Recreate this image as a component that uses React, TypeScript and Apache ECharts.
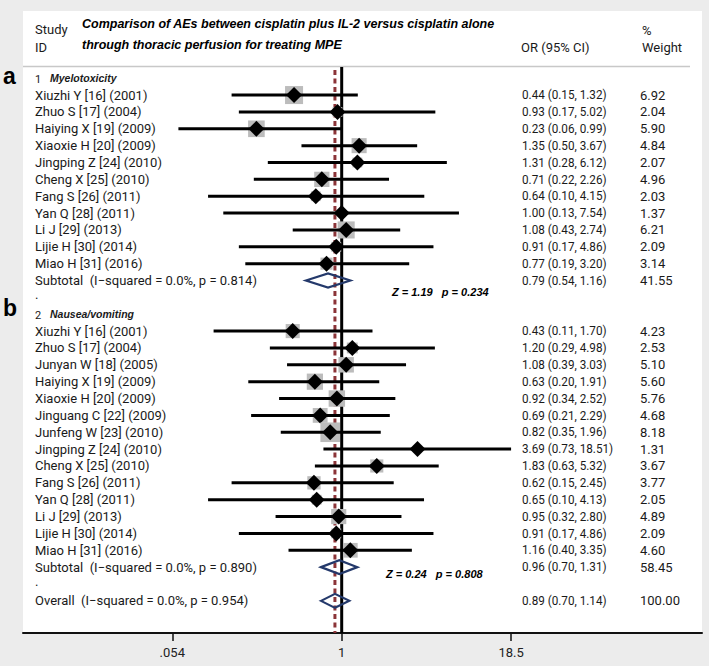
import React, { useEffect, useRef } from "react";
import * as echarts from "echarts";

// ---------- data ----------
const myeloStudies = [
  "Xiuzhi Y [16] (2001)", "Zhuo S [17] (2004)", "Haiying X [19] (2009)", "Xiaoxie H [20] (2009)",
  "Jingping Z [24] (2010)", "Cheng X [25] (2010)", "Fang S [26] (2011)", "Yan Q [28] (2011)",
  "Li J [29] (2013)", "Lijie H [30] (2014)", "Miao H [31] (2016)",
];
const myeloOR = [0.44, 0.93, 0.23, 1.35, 1.31, 0.71, 0.64, 1.0, 1.08, 0.91, 0.77];
const myeloLower = [0.15, 0.17, 0.06, 0.5, 0.28, 0.22, 0.1, 0.13, 0.43, 0.17, 0.19];
const myeloUpper = [1.32, 5.02, 0.99, 3.67, 6.12, 2.26, 4.15, 7.54, 2.74, 4.86, 3.2];
const myeloWeight = [6.92, 2.04, 5.9, 4.84, 2.07, 4.96, 2.03, 1.37, 6.21, 2.09, 3.14];

const nauseaStudies = [
  "Xiuzhi Y [16] (2001)", "Zhuo S [17] (2004)", "Junyan W [18] (2005)", "Haiying X [19] (2009)",
  "Xiaoxie H [20] (2009)", "Jinguang C [22] (2009)", "Junfeng W [23] (2010)", "Jingping Z [24] (2010)",
  "Cheng X [25] (2010)", "Fang S [26] (2011)", "Yan Q [28] (2011)", "Li J [29] (2013)",
  "Lijie H [30] (2014)", "Miao H [31] (2016)",
];
const nauseaOR = [0.43, 1.2, 1.08, 0.63, 0.92, 0.69, 0.82, 3.69, 1.83, 0.62, 0.65, 0.95, 0.91, 1.16];
const nauseaLower = [0.11, 0.29, 0.39, 0.2, 0.34, 0.21, 0.35, 0.73, 0.63, 0.15, 0.1, 0.32, 0.17, 0.4];
const nauseaUpper = [1.7, 4.98, 3.03, 1.91, 2.52, 2.29, 1.96, 18.51, 5.32, 2.45, 4.13, 2.8, 4.86, 3.35];
const nauseaWeight = [4.23, 2.53, 5.1, 5.6, 5.76, 4.68, 8.18, 1.31, 3.67, 3.77, 2.05, 4.89, 2.09, 4.6];

const pooledLabels = [
  "Subtotal  (I\u2212squared = 0.0%, p = 0.814)",
  "Subtotal  (I\u2212squared = 0.0%, p = 0.890)",
  "Overall  (I\u2212squared = 0.0%, p = 0.954)",
];
const pooledOR = [0.79, 0.96, 0.89];
const pooledLower = [0.54, 0.7, 0.7];
const pooledUpper = [1.16, 1.31, 1.14];
const pooledWeight = [41.55, 58.45, 100.0];

const groupNumbers = ["1", "2"];
const groupNames = ["Myelotoxicity", "Nausea/vomiting"];
const zStats = ["Z = 1.19   p = 0.234", "Z = 0.24   p = 0.808"];
const overallOR = 0.89;

const tickValues = [0.054, 1, 18.5];
const tickLabels = [".054", "1", "18.5"];

const titleLines = [
  "Comparison of AEs between cisplatin plus IL-2 versus cisplatin alone",
  "through thoracic perfusion for treating MPE",
];

// ---------- row model ----------
type Row = {
  row: number;
  kind: "group" | "study" | "pooled" | "dot";
  label: string;
  num?: string;
  or?: number;
  lo?: number;
  hi?: number;
  w?: number;
};

const rows: Row[] = [];
let r = 0;
const groups = [
  { studies: myeloStudies, or: myeloOR, lo: myeloLower, hi: myeloUpper, w: myeloWeight },
  { studies: nauseaStudies, or: nauseaOR, lo: nauseaLower, hi: nauseaUpper, w: nauseaWeight },
];
groups.forEach((g, gi) => {
  rows.push({ row: r++, kind: "group", label: groupNames[gi], num: groupNumbers[gi] });
  g.studies.forEach((s, i) =>
    rows.push({ row: r++, kind: "study", label: s, or: g.or[i], lo: g.lo[i], hi: g.hi[i], w: g.w[i] })
  );
  rows.push({
    row: r++, kind: "pooled", label: pooledLabels[gi], or: pooledOR[gi], lo: pooledLower[gi],
    hi: pooledUpper[gi], w: pooledWeight[gi],
  });
  rows.push({ row: r++, kind: "dot", label: "." });
});
rows.push({
  row: r++, kind: "pooled", label: pooledLabels[2], or: pooledOR[2], lo: pooledLower[2],
  hi: pooledUpper[2], w: pooledWeight[2],
});

const studyRows = rows.filter((x) => x.kind === "study");
const pooledRows = rows.filter((x) => x.kind === "pooled");

// ---------- layout ----------
const ROW0_Y = 78.2;
const ROW_H = 16.86;
const GRID_TOP = 11;
const GRID_BOTTOM_Y = 633;
const GRID_LEFT = 23;
const GRID_RIGHT_X = 702;
const X_ZERO = 341.7;
const PX_PER_LN = 58.04;
const yMin = (GRID_TOP - ROW0_Y) / ROW_H;
const yMax = (GRID_BOTTOM_Y - ROW0_Y) / ROW_H;
const xMin = (GRID_LEFT - X_ZERO) / PX_PER_LN;
const xMax = (GRID_RIGHT_X - X_ZERO) / PX_PER_LN;

const TXT = "#1a1a1a";
const NAVY = "#24396b";
const RED = "#8b3438";
const SANS = "Roboto";
const ARIAL = "Liberation Sans";

const fmt = (v: number) => v.toFixed(2);

const option: any = {
  animation: false,
  backgroundColor: "#ececec",
  grid: {
    left: GRID_LEFT,
    right: 709 - GRID_RIGHT_X,
    top: GRID_TOP,
    bottom: 666 - GRID_BOTTOM_Y,
    show: true,
    backgroundColor: "#ffffff",
    borderWidth: 0,
  },
  xAxis: {
    type: "value",
    min: xMin,
    max: xMax,
    splitLine: { show: false },
    axisLine: { show: true, onZero: false, lineStyle: { color: "#111", width: 2 } },
    axisTick: {
      show: true,
      customValues: tickValues.map((v) => Math.log(v)),
      length: 8,
      lineStyle: { color: "#111", width: 1.5 },
    },
    axisLabel: {
      customValues: tickValues.map((v) => Math.log(v)),
      formatter: (v: number) => {
        const i = tickValues.findIndex((t) => Math.abs(Math.log(t) - v) < 1e-6);
        return i >= 0 ? tickLabels[i] : "";
      },
      margin: 13,
      fontSize: 13,
      fontFamily: SANS,
      color: "#222",
    },
  },
  yAxis: { type: "value", inverse: true, min: yMin, max: yMax, show: false },
  series: [
    {
      type: "line",
      z: 1,
      silent: true,
      symbol: "none",
      data: [
        [Math.log(overallOR), (70 - ROW0_Y) / ROW_H],
        [Math.log(overallOR), yMax],
      ],
      lineStyle: { color: RED, width: 3, type: [5, 3.5] },
    },
    {
      type: "line",
      z: 2,
      silent: true,
      symbol: "none",
      data: [
        [0, (67 - ROW0_Y) / ROW_H],
        [0, yMax],
      ],
      lineStyle: { color: "#000", width: 3 },
    },
    {
      type: "custom",
      z: 3,
      silent: true,
      data: studyRows.map((s) => [Math.log(s.or!), s.row]),
      encode: { x: 0, y: 1 },
      renderItem: (params: any, api: any) => {
        const s = studyRows[params.dataIndex];
        const [cx, cy] = api.coord([Math.log(s.or!), s.row]);
        const xl = api.coord([Math.log(s.lo!), s.row])[0];
        const xh = api.coord([Math.log(s.hi!), s.row])[0];
        const box = 6.85 * Math.sqrt(s.w!);
        const d = 8;
        return {
          type: "group",
          children: [
            { type: "rect", shape: { x: cx - box / 2, y: cy - box / 2, width: box, height: box }, style: { fill: "#bcbcbc" } },
            { type: "line", shape: { x1: xl, y1: cy, x2: xh, y2: cy }, style: { stroke: "#000", lineWidth: 3 } },
            {
              type: "polygon",
              shape: { points: [[cx - d, cy], [cx, cy - d], [cx + d, cy], [cx, cy + d]] },
              style: { fill: "#000" },
            },
          ],
        };
      },
    },
    {
      type: "custom",
      z: 4,
      silent: true,
      data: pooledRows.map((s) => [Math.log(s.or!), s.row]),
      encode: { x: 0, y: 1 },
      renderItem: (params: any, api: any) => {
        const s = pooledRows[params.dataIndex];
        const [cx, cy] = api.coord([Math.log(s.or!), s.row]);
        const xl = api.coord([Math.log(s.lo!), s.row])[0];
        const xh = api.coord([Math.log(s.hi!), s.row])[0];
        const h = 7;
        return {
          type: "polygon",
          shape: { points: [[xl, cy], [cx, cy - h], [xh, cy], [cx, cy + h]] },
          style: { fill: "none", stroke: NAVY, lineWidth: 2.2 },
        };
      },
    },
    {
      type: "custom",
      z: 5,
      silent: true,
      data: rows.map((s) => [0, s.row]),
      encode: { x: 0, y: 1 },
      renderItem: (params: any, api: any) => {
        const s = rows[params.dataIndex];
        const cy = api.coord([0, s.row])[1];
        const children: any[] = [];
        const txt = (x: number, y: number, text: string, extra: any = {}, scaleX = 1) => ({
          type: "text",
          x,
          y,
          scaleX,
          style: {
            text,
            fill: TXT,
            fontFamily: SANS,
            fontSize: 13,
            align: "left",
            verticalAlign: "middle",
            ...extra,
          },
        });
        if (s.kind === "group") {
          children.push(txt(35, cy + 1.5, s.num!, { fontSize: 11 }));
          children.push(
            txt(50, cy - 0.5, s.label, { fontFamily: ARIAL, fontSize: 10.5, fontWeight: "bold", fontStyle: "italic" })
          );
        } else if (s.kind === "dot") {
          children.push(txt(35, cy - 3, "."));
        } else {
          children.push(txt(35, cy, s.label));
          children.push(txt(522, cy, `${fmt(s.or!)} (${fmt(s.lo!)}, ${fmt(s.hi!)})`, { fontSize: 13 }, 0.9));
          children.push(txt(640, cy, fmt(s.w!), { fontSize: 13 }));
        }
        return { type: "group", children };
      },
    },
  ],
  graphic: [
    { type: "line", shape: { x1: GRID_LEFT, y1: 66.5, x2: 690, y2: 66.5 }, style: { stroke: "#c8c8c8", lineWidth: 1.5 } },
    { type: "text", x: 35, y: 29, style: { text: "Study", fill: TXT, fontFamily: SANS, fontSize: 13, verticalAlign: "middle" } },
    { type: "text", x: 35, y: 47, style: { text: "ID", fill: TXT, fontFamily: SANS, fontSize: 13, verticalAlign: "middle" } },
    ...titleLines.map((t, i) => ({
      type: "text",
      x: 82,
      y: 24 + i * 21,
      style: { text: t, fill: "#000", fontFamily: ARIAL, fontSize: 12.5, fontWeight: "bold", fontStyle: "italic", verticalAlign: "middle" },
    })),
    { type: "text", x: 521, y: 47, style: { text: "OR (95% CI)", fill: TXT, fontFamily: SANS, fontSize: 13, verticalAlign: "middle" } },
    { type: "text", x: 642, y: 30, style: { text: "%", fill: TXT, fontFamily: SANS, fontSize: 13, verticalAlign: "middle" } },
    { type: "text", x: 642, y: 47, style: { text: "Weight", fill: TXT, fontFamily: SANS, fontSize: 13, verticalAlign: "middle" } },
    { type: "text", x: 3, y: 76, style: { text: "a", fill: "#000", fontFamily: ARIAL, fontSize: 23, fontWeight: "bold", verticalAlign: "middle" } },
    { type: "text", x: 3, y: 307.5, style: { text: "b", fill: "#000", fontFamily: ARIAL, fontSize: 23, fontWeight: "bold", verticalAlign: "middle" } },
    ...zStats.map((t, i) => ({
      type: "text",
      x: i === 0 ? 392 : 386,
      y: i === 0 ? 292 : 574,
      style: { text: t, fill: "#000", fontFamily: ARIAL, fontSize: 11, fontWeight: "bold", fontStyle: "italic", verticalAlign: "middle" },
    })),
  ],
};

export default function App() {
  const ref = useRef<HTMLDivElement>(null);
  useEffect(() => {
    const chart = echarts.init(ref.current!, null, { renderer: "svg" });
    chart.setOption(option);
    return () => chart.dispose();
  }, []);
  return (
    <div
      ref={ref}
      style={{ position: "fixed", left: 0, top: 0, width: 709, height: 666, background: "#ececec" }}
    />
  );
}
